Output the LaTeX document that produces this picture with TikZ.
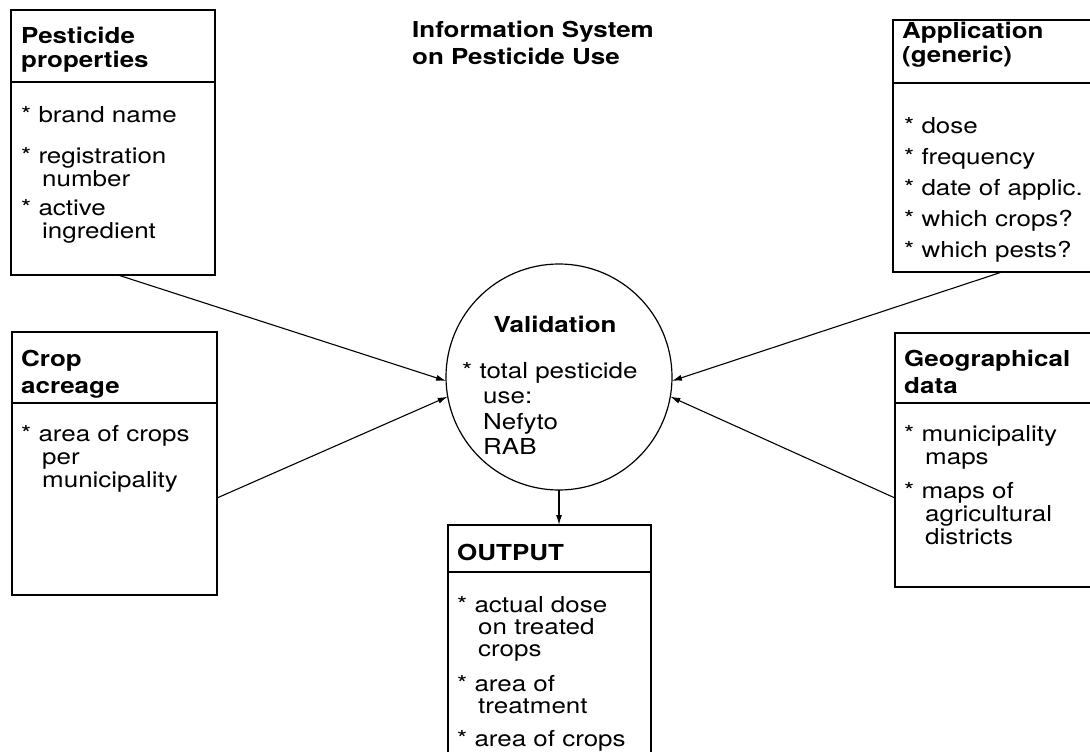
\documentclass[tikz,border=0pt]{standalone}
\usepackage{fontspec}
\setmainfont{TeX Gyre Heros}[FakeStretch=1.18]
\usepackage{tikz}
\usetikzlibrary{arrows.meta, calc}
\tikzstyle{infobox} = [rectangle, draw=black, line width=1.2pt,
    anchor=north west, inner sep=0pt, outer sep=0pt]
\tikzstyle{headtext} = [anchor=base west, align=left, inner sep=0pt,
    font=\bfseries\fontsize{22}{24}\selectfont]
\tikzstyle{bodytext} = [anchor=base west, align=left, inner sep=0pt,
    font=\fontsize{22}{23}\selectfont]
\tikzstyle{divider} = [line width=1.2pt]
\tikzstyle{arrow} = [line width=1.1pt, -{Latex[length=10pt, width=6pt]}]
\newcommand{\contind}{\hspace*{21pt}}

\begin{document}
\begin{tikzpicture}[x=1pt, y=-1pt]
            \useasboundingbox (0,0) rectangle (1090,752);
            \clip (0,0) rectangle (1090,752);
            % Title (text nodes sit on the baseline of their last line)
            \node[headtext, font=\bfseries\fontsize{22}{28}\selectfont]
            (title) at (412,65) {Information System\\on Pesticide Use};
            % Boxes
            \node[infobox, minimum width=204pt, minimum height=265pt] (pest) at (11,10) {};
            \node[infobox, minimum width=220pt, minimum height=252pt] (app) at (893,20) {};
            \node[infobox, minimum width=205pt, minimum height=263pt] (crop) at (12,332) {};
            \node[infobox, minimum width=220pt, minimum height=254pt] (geo) at (895,333) {};
            \node[infobox, minimum width=203pt, minimum height=260pt] (out) at (448,525) {};
            \node[circle, draw=black, line width=1.2pt, minimum size=226pt,
            inner sep=0pt, outer sep=0pt] (valid) at (559,377) {};
            % Dividers
            \draw[divider] ([yshift=-72pt]pest.north west) -- ([yshift=-72pt]pest.north east);
            \draw[divider] ([yshift=-63pt]app.north west) -- ([yshift=-63pt]app.north east);
            \draw[divider] ([yshift=-71pt]crop.north west) -- ([yshift=-71pt]crop.north east);
            \draw[divider] ([yshift=-70pt]geo.north west) -- ([yshift=-70pt]geo.north east);
            \draw[divider] ([yshift=-47pt]out.north west) -- ([yshift=-47pt]out.north east);
            % Headings
            \node[headtext] (pesthead) at (21,67) {Pesticide\\properties};
            \node[headtext] (apphead) at (902,63) {Application\\(generic)};
            \node[headtext, font=\bfseries\fontsize{22}{27}\selectfont]
            (crophead) at (21,393) {Crop\\acreage};
            \node[headtext, font=\bfseries\fontsize{22}{27}\selectfont]
            (geohead) at (904,393) {Geographical\\data};
            \node[headtext] (outhead) at (457,560) {OUTPUT};
            \node[headtext, anchor=base] (validhead) at (555,332) {Validation};
            % Items
            \node[bodytext] (pestbody) at (21,238) {* brand name\\[18pt]{}* registration\\
            \contind number\\[6pt]{}* active\\\contind ingredient};
            \node[bodytext, font=\fontsize{22}{31}\selectfont] (appbody) at (904,257)
            {* dose\\{}* frequency\\{}* date of applic.\\{}* which crops?\\{}* which pests?};
            \node[bodytext] (cropbody) at (21,487) {* area of crops\\\contind per\\
            \contind municipality};
            \node[bodytext] (geobody) at (904,544) {* municipality\\\contind maps\\[11pt]{}* maps of\\
            \contind agricultural\\\contind districts};
            \node[bodytext, font=\fontsize{22}{22}\selectfont] (outbody) at (457,746)
            {* actual dose\\\contind on treated\\\contind crops\\[13pt]{}* area of\\
            \contind treatment\\[11pt]{}* area of crops};
            \node[bodytext, font=\fontsize{22}{25.5}\selectfont] (validbody) at (462,454.5)
            {* total pesticide\\\contind use:\\\contind Nefyto\\\contind RAB};
            % Arrows
            \coordinate (pestout) at ([xshift=107pt]pest.south west);
            \coordinate (appout) at ([xshift=109pt]app.south west);
            \coordinate (cropout) at ([yshift=-34.5pt]crop.east);
            \coordinate (geoout) at ([yshift=-38pt]geo.west);
            \draw[arrow] (pestout) -- (valid.182);
            \draw[arrow] (cropout) -- (valid.190);
            \draw[arrow] (appout) -- (valid.358);
            \draw[arrow] (geoout) -- (valid.350);
            \draw[arrow] (valid.south) -- (valid.south |- out.north);
\end{tikzpicture}
\end{document}
